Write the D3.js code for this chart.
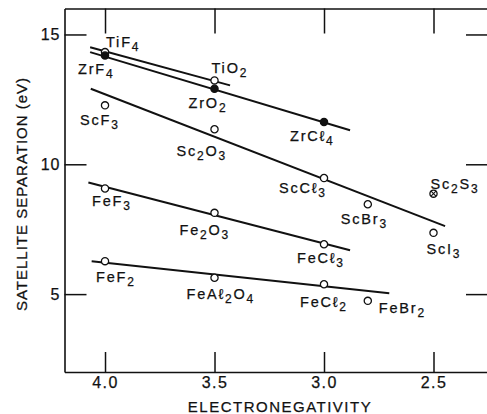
<!DOCTYPE html>
<html>
<head>
<meta charset="utf-8">
<script src="https://cdn.jsdelivr.net/npm/d3@7"></script>
<style>
  html, body { margin: 0; padding: 0; background: #fff; }
  svg { display: block; }
  text { font-family: "Liberation Sans", Arial, sans-serif; fill: #111; stroke: #111; stroke-width: 0.25px; }
</style>
</head>
<body>
<svg id="chart" width="487" height="414"></svg>
<script>
// Compounds, their ligand electronegativity and satellite separation (eV)
const compounds = ["TiF4", "ZrF4", "ScF3", "TiO2", "ZrO2", "Sc2O3", "ZrCℓ4", "ScCℓ3", "ScBr3",
                   "Sc2S3", "ScI3", "FeF3", "Fe2O3", "FeCℓ3", "FeF2", "FeAℓ2O4", "FeCℓ2", "FeBr2"];
const electronegativity = [4.0, 4.0, 4.0, 3.5, 3.5, 3.5, 3.0, 3.0, 2.8,
                           2.5, 2.5, 4.0, 3.5, 3.0, 4.0, 3.5, 3.0, 2.8];
const separation = [14.32, 14.19, 12.27, 13.23, 12.91, 11.35, 11.63, 9.47, 8.46,
                    8.87, 7.36, 9.07, 8.13, 6.92, 6.27, 5.63, 5.38, 4.74];
const markerKind = ["open", "filled", "open", "open", "filled", "open", "filled", "open", "open",
                    "crossed", "open", "open", "open", "open", "open", "open", "open", "open"];

// Trend lines for each metal family (start / end in data units)
const trendFamily = ["Ti", "Zr", "Sc", "Fe(III)", "Fe(II)"];
const trendX0 = [4.068, 4.068, 4.065, 4.076, 4.061];
const trendY0 = [14.51, 14.32, 12.91, 9.30, 6.27];
const trendX1 = [3.429, 2.881, 2.447, 2.881, 2.702];
const trendY1 = [13.04, 11.31, 7.62, 6.69, 5.03];

// Axis ticks
const xTicks = [4.0, 3.5, 3.0, 2.5];
const yTicks = [5, 10, 15];

// Label placement relative to each marker (pixels)
const labelOffset = {
  "TiF4": [1, -5], "ZrF4": [-27, 19], "ScF3": [-25, 20], "TiO2": [-3, -7],
  "ZrO2": [-26, 19], "Sc2O3": [-38, 27], "ZrCℓ4": [-34, 19], "ScCℓ3": [-45, 15],
  "ScBr3": [-27, 20], "Sc2S3": [-3, -5], "ScI3": [-7, 21], "FeF3": [-13, 18],
  "Fe2O3": [-35, 22], "FeCℓ3": [-27, 19], "FeF2": [-9, 21], "FeAℓ2O4": [-28, 21],
  "FeCℓ2": [-24, 23], "FeBr2": [11, 12]
};

const svg = d3.select("#chart");
const plotLeft = 64.5, plotRight = 490, plotTop = 8.5, plotBottom = 372;

const x = d3.scaleLinear().domain([4.185, 2.242]).range([plotLeft, plotRight]);
const y = d3.scaleLinear().domain([2, 16]).range([plotBottom, plotTop]);

const ink = "#111";

// Frame with inward ticks on all four sides
const axisStyle = g => {
  g.select(".domain").attr("stroke", ink).attr("stroke-width", 1.6);
  g.selectAll(".tick line").attr("stroke", ink).attr("stroke-width", 1.5);
  g.selectAll(".tick text").attr("fill", ink).attr("stroke", ink).attr("stroke-width", 0.25)
    .style("font-family", '"Liberation Sans", Arial, sans-serif');
};

svg.append("g")
  .attr("transform", `translate(0,${plotBottom})`)
  .call(d3.axisBottom(x).tickValues(xTicks).tickSize(-20).tickSizeOuter(0)
        .tickPadding(5).tickFormat(d3.format(".1f")))
  .call(axisStyle)
  .call(g => g.selectAll(".tick text").style("font-size", "16px").style("letter-spacing", "1.5px"));

svg.append("g")
  .attr("transform", `translate(0,${plotTop})`)
  .call(d3.axisTop(x).tickValues(xTicks).tickSize(-25).tickSizeOuter(0).tickFormat(""))
  .call(axisStyle);

svg.append("g")
  .attr("transform", `translate(${plotLeft},0)`)
  .call(d3.axisLeft(y).tickValues(yTicks).tickSize(-22).tickSizeOuter(0).tickPadding(4))
  .call(axisStyle)
  .call(g => g.selectAll(".tick text").style("font-size", "16px").style("letter-spacing", "1px"));

svg.append("g")
  .attr("transform", `translate(${plotRight},0)`)
  .call(d3.axisRight(y).tickValues(yTicks).tickSize(-24).tickSizeOuter(0).tickFormat(""))
  .call(axisStyle);

// Axis titles
svg.append("text")
  .attr("x", 280).attr("y", 412)
  .attr("text-anchor", "middle")
  .style("font-size", "15px").style("letter-spacing", "1.5px")
  .text("ELECTRONEGATIVITY");

svg.append("text")
  .attr("transform", "translate(27,194) rotate(-90)")
  .attr("text-anchor", "middle")
  .style("font-size", "15px").style("letter-spacing", "1px")
  .text("SATELLITE SEPARATION (eV)");

// Trend lines
svg.append("g").selectAll("line")
  .data(trendFamily.map((f, i) => ({ f, x0: trendX0[i], y0: trendY0[i], x1: trendX1[i], y1: trendY1[i] })))
  .join("line")
  .attr("x1", d => x(d.x0)).attr("y1", d => y(d.y0))
  .attr("x2", d => x(d.x1)).attr("y2", d => y(d.y1))
  .attr("stroke", ink).attr("stroke-width", 2);

// Markers
const points = compounds.map((name, i) => ({
  name, en: electronegativity[i], sep: separation[i], kind: markerKind[i]
}));

const marks = svg.append("g").selectAll("g")
  .data(points)
  .join("g")
  .attr("transform", d => `translate(${x(d.en)},${y(d.sep)})`);

marks.append("circle")
  .attr("r", 3.6)
  .attr("fill", d => d.kind === "filled" ? ink : "#fff")
  .attr("stroke", ink).attr("stroke-width", 1.3);

marks.filter(d => d.kind === "crossed").append("path")
  .attr("d", "M-2.4,-2.4L2.4,2.4M-2.4,2.4L2.4,-2.4")
  .attr("stroke", ink).attr("stroke-width", 1.1);

// Formula labels: digits are set as subscripts
const labels = svg.append("g").selectAll("text")
  .data(points)
  .join("text")
  .attr("x", d => x(d.en) + labelOffset[d.name][0])
  .attr("y", d => y(d.sep) + labelOffset[d.name][1])
  .style("font-size", "14.5px")
  .style("letter-spacing", "1.8px");

labels.each(function (d) {
  const t = d3.select(this);
  const runs = d.name.match(/\d+|\D+/g);
  let shifted = false;
  runs.forEach(run => {
    const isSub = /\d/.test(run);
    const sp = t.append("tspan").text(run);
    if (isSub) {
      sp.attr("dy", 4).style("font-size", "12px");
      shifted = true;
    } else if (shifted) {
      sp.attr("dy", -4);
      shifted = false;
    }
  });
});
</script>
</body>
</html>
